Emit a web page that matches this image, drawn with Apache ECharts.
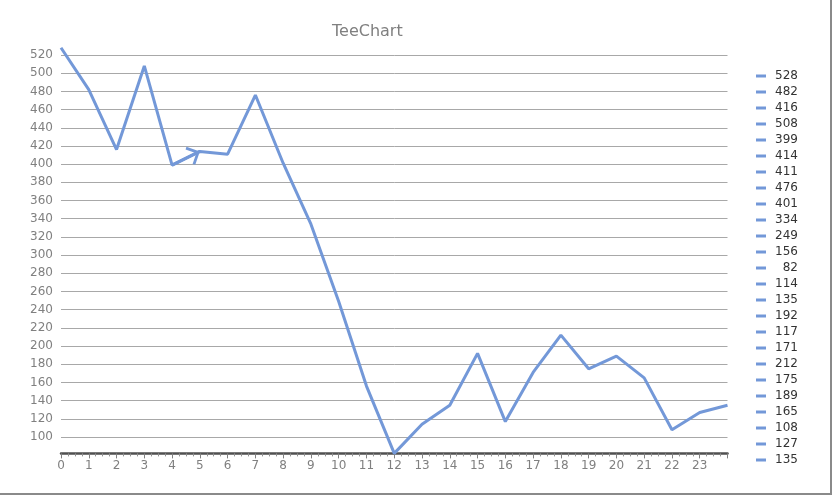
<!DOCTYPE html>
<html>
<head>
<meta charset="utf-8">
<script src="https://cdn.jsdelivr.net/npm/echarts@6/dist/echarts.min.js"></script>
<style>
html,body{margin:0;padding:0;background:#fff;}
#c{width:833px;height:496px;}
</style>
</head>
<body>
<div id="c"></div>
<script>
var xValues = [0,1,2,3,4,5,6,7,8,9,10,11,12,13,14,15,16,17,18,19,20,21,22,23,24];
var values = [528,482,416,508,399,414,411,476,401,334,249,156,82,114,135,192,117,171,212,175,189,165,108,127,135];
var arrowFrom = [4, 399];
var arrowTo = [5, 414];

var lineColor = '#7398d8';
var font = 'DejaVu Sans, Verdana, sans-serif';

var legendNames = values.map(function(v, i){ return 'p' + i; });
var series = [{
  type: 'line',
  name: 'main',
  data: xValues.map(function(x, i){ return [x, values[i]]; }),
  showSymbol: false,
  symbol: 'none',
  clip: false,
  lineStyle: {color: lineColor, width: 3},
  itemStyle: {color: lineColor},
  z: 3,
  markLine: {
    silent: true,
    animation: false,
    symbol: ['none', 'path://M10 -12 L10 -12 Z M10 0 L20 10 L18 12 L10 4 L2 12 L0 10 Z'],
    symbolSize: [20, 24],
    label: {show: false},
    lineStyle: {color: lineColor, width: 3, type: 'solid'},
    emphasis: {disabled: true},
    data: [[{coord: arrowFrom}, {coord: arrowTo}]]
  }
}];
legendNames.forEach(function(n){
  series.push({type: 'line', name: n, data: [], color: lineColor, itemStyle: {color: lineColor}});
});

var chart = echarts.init(document.getElementById('c'), null, {renderer: 'canvas'});
chart.setOption({
  animation: false,
  backgroundColor: '#fff',
  title: {
    text: 'TeeChart',
    left: 332,
    top: 24,
    padding: 0,
    textStyle: {color: '#808080', fontFamily: font, fontSize: 16, fontWeight: 'normal'}
  },
  legend: {
    orient: 'vertical',
    left: 756,
    top: 68,
    padding: 0,
    itemGap: 0,
    itemWidth: 10,
    itemHeight: 3,
    icon: 'rect',
    selectedMode: false,
    data: legendNames,
    formatter: function(name){ return '{v|' + values[+name.slice(1)] + '}'; },
    textStyle: {
      color: '#333',
      fontFamily: font,
      fontSize: 12,
      lineHeight: 16,
      rich: {v: {width: 27, align: 'right', fontFamily: font, fontSize: 12, color: '#333', lineHeight: 16}}
    }
  },
  grid: {left: 61, right: 105.5, top: 55, bottom: 42.6, containLabel: false},
  xAxis: {
    type: 'value',
    min: 0,
    max: 24,
    interval: 1,
    axisLine: {show: true, lineStyle: {color: '#505050', width: 2.5}},
    axisTick: {show: true, length: 5, lineStyle: {color: '#808080'}},
    minorTick: {show: true, splitNumber: 4, length: 3, lineStyle: {color: '#909090'}},
    splitLine: {show: false},
    axisLabel: {color: '#808080', fontFamily: font, fontSize: 12, margin: 6, showMaxLabel: false}
  },
  yAxis: {
    type: 'value',
    min: 82,
    max: 520,
    splitNumber: 22,
    axisLine: {show: false},
    axisTick: {show: false},
    splitLine: {show: true, lineStyle: {color: '#a8a8a8', width: 1}},
    axisLabel: {color: '#808080', fontFamily: font, fontSize: 12, margin: 8, showMinLabel: false}
  },
  graphic: [
    {type: 'line', shape: {x1: 831, y1: 0, x2: 831, y2: 495}, style: {stroke: '#8a8a8a', lineWidth: 2}, silent: true},
    {type: 'line', shape: {x1: 0, y1: 494, x2: 832, y2: 494}, style: {stroke: '#8a8a8a', lineWidth: 2}, silent: true}
  ],
  series: series
});
</script>
</body>
</html>
